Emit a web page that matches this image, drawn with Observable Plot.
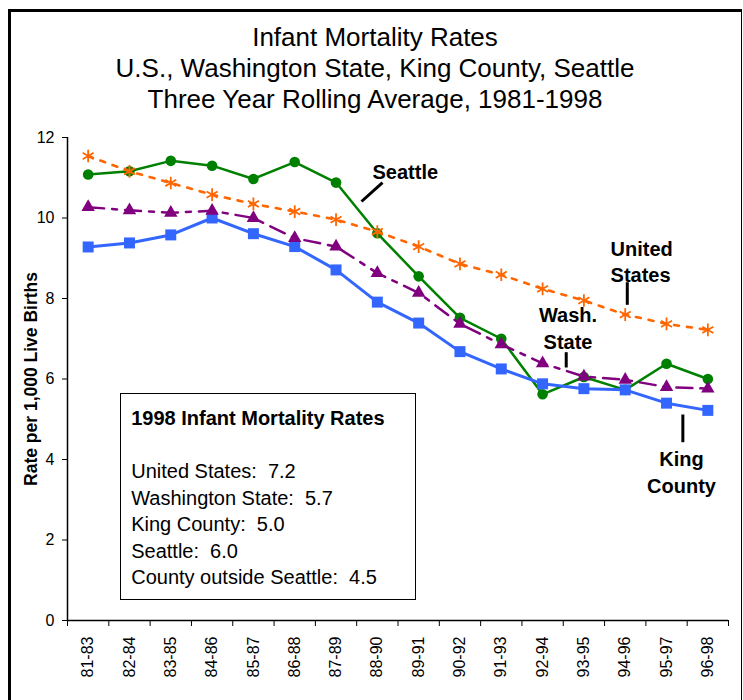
<!DOCTYPE html>
<html><head><meta charset="utf-8">
<script src="https://cdn.jsdelivr.net/npm/d3@7"></script>
<script src="https://cdn.jsdelivr.net/npm/@observablehq/plot@0.6"></script>
<style>
body{margin:0;background:#fff;}
#wrap{position:relative;width:743px;height:700px;overflow:hidden;font-family:"Liberation Sans",Arial,sans-serif;color:#000;}
#border{position:absolute;left:8px;top:9px;width:730px;height:720px;border-left:3px solid #000;border-top:3px solid #000;border-right:1.5px solid #000;pointer-events:none;}
#title{height:120px;box-sizing:border-box;padding-top:21.5px;padding-left:7px;text-align:center;font-size:26px;line-height:31px;}
#chart{position:absolute;left:0;top:120px;}
#box{position:absolute;left:120px;top:393px;width:296px;height:207px;border:1.5px solid #000;background:#fff;font-size:20px;line-height:26.5px;padding:11px 0 0 10.2px;box-sizing:border-box;white-space:pre;}
#box .h{font-weight:bold;}
</style></head>
<body>
<div id="wrap">
  <div id="title"></div>
  <div id="chart"></div>
  <div id="box"></div>
  <div id="border"></div>
</div>
<script>
const titleLines = ["Infant Mortality Rates", "U.S., Washington State, King County, Seattle", "Three Year Rolling Average, 1981-1998"];
const categories = ["81-83","82-84","83-85","84-86","85-87","86-88","87-89","88-90","89-91","90-92","91-93","92-94","93-95","94-96","95-97","96-98"];
const unitedStates = [11.54, 11.16, 10.87, 10.58, 10.35, 10.16, 9.96, 9.66, 9.29, 8.86, 8.59, 8.24, 7.95, 7.60, 7.37, 7.22];
const washington   = [10.27, 10.19, 10.13, 10.18, 10.00, 9.50, 9.29, 8.63, 8.14, 7.37, 6.86, 6.39, 6.06, 5.98, 5.80, 5.76];
const kingCounty   = [9.28, 9.38, 9.58, 10.00, 9.61, 9.29, 8.71, 7.91, 7.39, 6.68, 6.25, 5.88, 5.76, 5.73, 5.40, 5.22];
const seattle      = [11.08, 11.16, 11.42, 11.30, 10.97, 11.39, 10.88, 9.62, 8.55, 7.52, 7.00, 5.62, 6.05, 5.73, 6.38, 6.00];
const yTicks = [0, 2, 4, 6, 8, 10, 12];
const yLabel = "Rate per 1,000 Live Births";
const boxTitle = "1998 Infant Mortality Rates";
const boxItems = ["United States:  7.2", "Washington State:  5.7", "King County:  5.0", "Seattle:  6.0", "County outside Seattle:  4.5"];
// series labels placed in data units (x = category index, y = rate)
const seriesLabels = [
  {text: "Seattle", x: 6.883, y: 11.452, anchor: "start"},
  {text: "United\nStates", x: 12.645, y: 9.539, anchor: "start"},
  {text: "Wash.\nState", x: 11.616, y: 7.875, anchor: "middle"},
  {text: "King\nCounty", x: 14.363, y: 4.305, anchor: "middle"}
];
const leaders = [
  {x1: 6.617, y1: 10.41, x2: 7.125, y2: 10.88},
  {x1: 13.05, y1: 8.405, x2: 13.05, y2: 7.843},
  {x1: 11.572, y1: 6.666, x2: 11.572, y2: 6.286},
  {x1: 14.395, y1: 5.118, x2: 14.395, y2: 4.43}
];

document.getElementById("title").innerHTML = titleLines.map(t => `<div>${t}</div>`).join("");
document.getElementById("box").innerHTML = `<div class="h">${boxTitle}</div><div>&nbsp;</div>` + boxItems.map(t => `<div>${t}</div>`).join("");

const rows = vals => vals.map((v, i) => ({i, v}));
const series = [
  {data: rows(seattle), color: "#008000", dash: null, width: 2.5, symbol: "circle", r: 5.3, filled: true},
  {data: rows(kingCounty), color: "#3366FF", dash: null, width: 3, symbol: "square", r: 6.2, filled: true},
  {data: rows(washington), color: "#800080", dash: "16,8,5,8", width: 2.5, symbol: "triangle", r: 5, filled: true},
  {data: rows(unitedStates), color: "#FF6600", dash: "5,8", width: 2.6, symbol: "asterisk", r: 6, filled: false}
];

const seriesMarks = series.flatMap(s => [
  Plot.line(s.data, {x: "i", y: "v", stroke: s.color, strokeWidth: s.width, strokeDasharray: s.dash ?? undefined}),
  s.filled
    ? Plot.dot(s.data, {x: "i", y: "v", symbol: s.symbol, r: s.r, fill: s.color, stroke: "none"})
    : Plot.dot(s.data, {x: "i", y: "v", symbol: s.symbol, r: s.r, stroke: s.color, strokeWidth: 1.8, fill: "none"})
]);

const chart = Plot.plot({
  width: 743, height: 580,
  marginTop: 17, marginLeft: 67, marginRight: 15, marginBottom: 80,
  style: {fontFamily: "'Liberation Sans', Arial, sans-serif", background: "transparent", color: "#000", overflow: "visible"},
  x: {domain: [-0.5, categories.length - 0.5]},
  y: {domain: [0, 12]},
  marks: [
    Plot.axisY({ticks: yTicks, tickSize: 5, tickPadding: 8, fontSize: 16, label: null, tickFormat: d => String(d)}),
    Plot.axisX({ticks: d3.range(categories.length + 1).map(i => i - 0.5), tickSize: 6, tickFormat: () => "", label: null}),
    Plot.axisX({ticks: d3.range(categories.length), tickSize: 0, tickPadding: 16, tickRotate: -90, fontSize: 16, tickFormat: i => categories[i], label: null}),
    Plot.ruleX([-0.5], {strokeWidth: 1.5}),
    Plot.ruleY([0], {strokeWidth: 1.5}),
    Plot.text([yLabel], {frameAnchor: "left", textAnchor: "middle", lineAnchor: "middle", dx: -36.6, rotate: -90, fontSize: 17.5, fontWeight: "bold", text: d => d}),
    ...seriesMarks,
    Plot.link(leaders, {x1: "x1", y1: "y1", x2: "x2", y2: "y2", stroke: "#000", strokeWidth: 3}),
    Plot.text(seriesLabels.filter(d => d.anchor === "start"), {x: "x", y: "y", text: "text", textAnchor: "start", lineAnchor: "top", lineHeight: 1.335, fontSize: 20, fontWeight: "bold", fill: "#000"}),
    Plot.text(seriesLabels.filter(d => d.anchor === "middle"), {x: "x", y: "y", text: "text", textAnchor: "middle", lineAnchor: "top", lineHeight: 1.335, fontSize: 20, fontWeight: "bold", fill: "#000"})
  ]
});
document.getElementById("chart").appendChild(chart);
</script>
</body></html>
